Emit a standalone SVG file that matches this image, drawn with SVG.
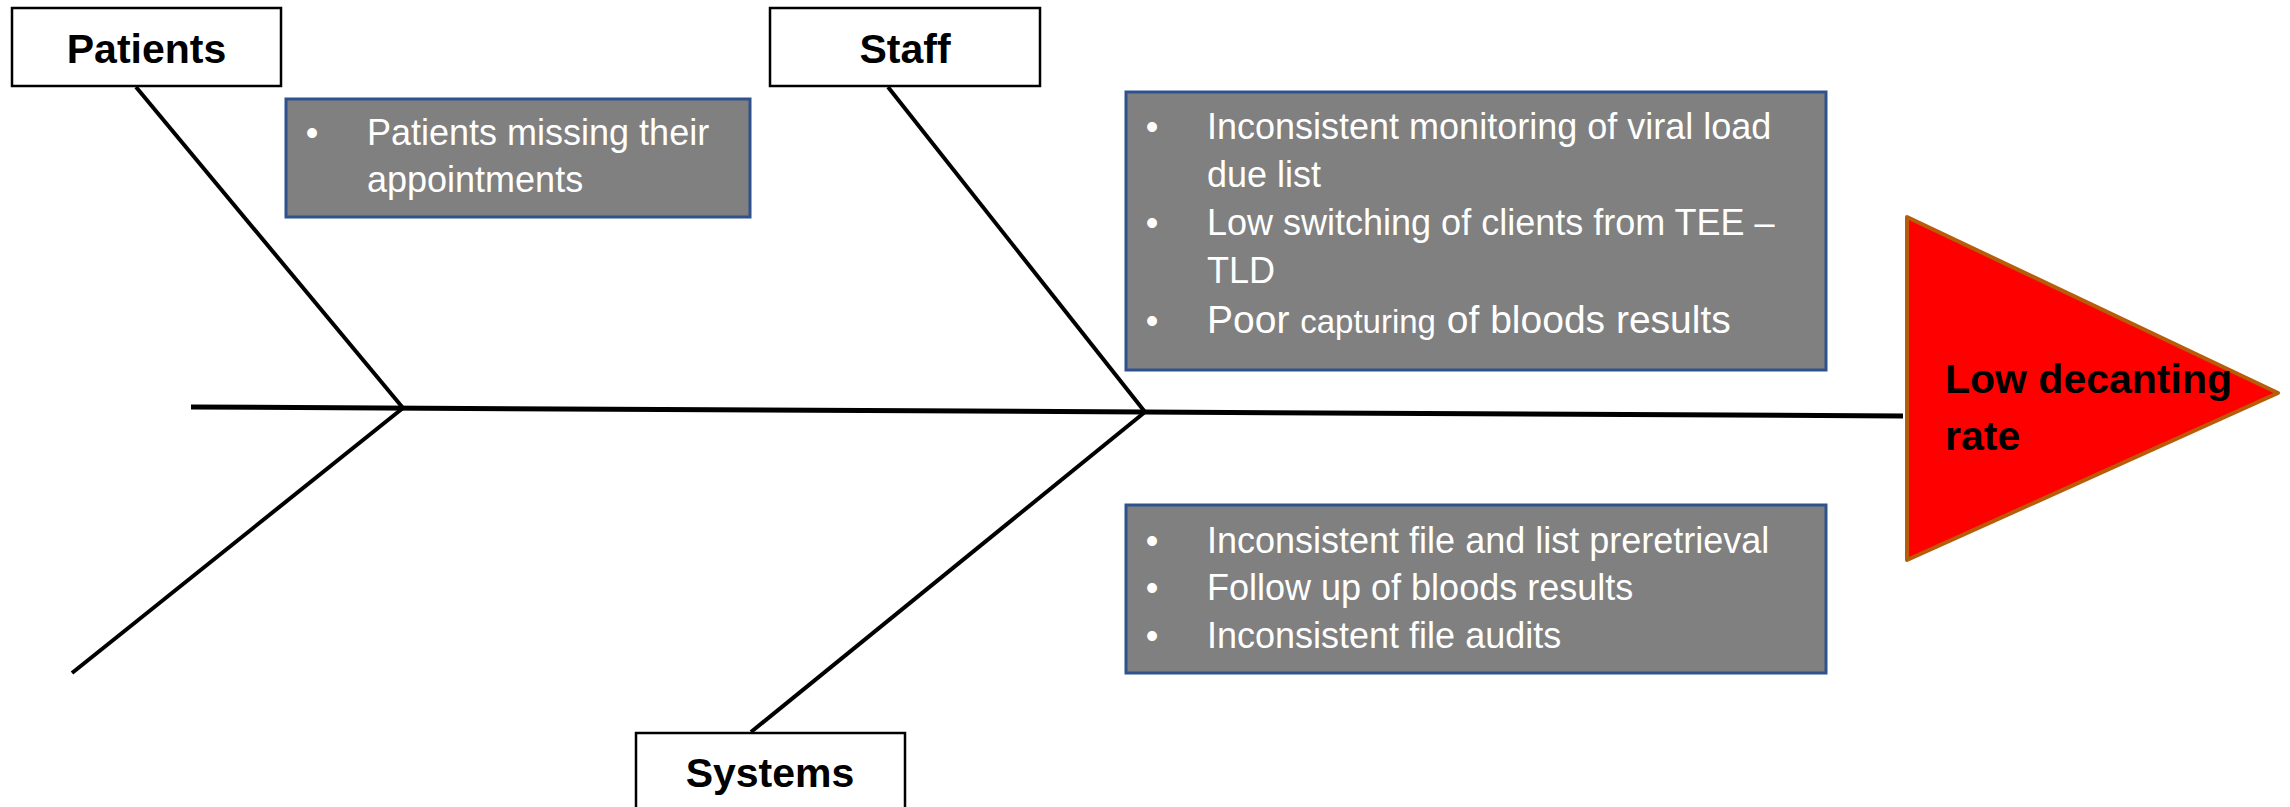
<svg xmlns="http://www.w3.org/2000/svg" width="2290" height="807" viewBox="0 0 2290 807">
  <style>
    .label-box { fill: #ffffff; stroke: #000000; stroke-width: 2.5; }
    .label { font-family: "Liberation Sans", Arial, sans-serif; font-weight: bold; font-size: 41px; fill: #000000; text-anchor: middle; }
    .cause-box { fill: #808080; stroke: #2F528F; stroke-width: 3; }
    .cause { font-family: "Liberation Sans", Arial, sans-serif; font-size: 36px; fill: #ffffff; }
    .bullet { text-anchor: middle; }
    .bone { stroke: #000000; stroke-width: 4; fill: none; stroke-linecap: butt; }
    .spine { stroke: #000000; stroke-width: 5; fill: none; }
    .head { fill: #FF0000; stroke: #B85C0A; stroke-width: 4; stroke-linejoin: round; }
    .effect { font-family: "Liberation Sans", Arial, sans-serif; font-weight: bold; font-size: 41px; fill: #000000; }
  </style>

  <!-- fishbone lines -->
  <g id="connectors">
    <line class="spine" x1="191" y1="407" x2="1903" y2="416"/>
    <line class="bone" x1="136" y1="87" x2="403" y2="408"/>
    <line class="bone" x1="403" y1="408" x2="72" y2="673"/>
    <line class="bone" x1="888" y1="87" x2="1145" y2="412"/>
    <line class="bone" x1="1145" y1="412" x2="751" y2="732"/>
  </g>

  <g id="patients">
    <rect class="label-box" x="12" y="8" width="269" height="78"/>
    <text class="label" x="146.5" y="63">Patients</text>
  </g>

  <g id="staff">
    <rect class="label-box" x="770" y="8" width="270" height="78"/>
    <text class="label" x="905" y="63">Staff</text>
  </g>

  <g id="systems">
    <rect class="label-box" x="636" y="733" width="269" height="90"/>
    <text class="label" x="770" y="787">Systems</text>
  </g>

  <g id="patients-causes">
    <rect class="cause-box" x="286" y="99" width="464" height="118"/>
    <text class="cause bullet" x="312" y="145">•</text>
    <text class="cause" x="367" y="145">Patients missing their</text>
    <text class="cause" x="367" y="192">appointments</text>
  </g>

  <g id="staff-causes">
    <rect class="cause-box" x="1126" y="92" width="700" height="278"/>
    <text class="cause bullet" x="1152" y="139">•</text>
    <text class="cause" x="1207" y="139">Inconsistent monitoring of viral load</text>
    <text class="cause" x="1207" y="187">due list</text>
    <text class="cause bullet" x="1152" y="235">•</text>
    <text class="cause" x="1207" y="235">Low switching of clients from TEE –</text>
    <text class="cause" x="1207" y="283">TLD</text>
    <text class="cause bullet" x="1152" y="333">•</text>
    <text class="cause" x="1207" y="333" style="font-size:39px">Poor <tspan style="font-size:33px">capturing</tspan> of bloods results</text>
  </g>

  <g id="systems-causes">
    <rect class="cause-box" x="1126" y="505" width="700" height="168"/>
    <text class="cause bullet" x="1152" y="553">•</text>
    <text class="cause" x="1207" y="553">Inconsistent file and list preretrieval</text>
    <text class="cause bullet" x="1152" y="600">•</text>
    <text class="cause" x="1207" y="600">Follow up of bloods results</text>
    <text class="cause bullet" x="1152" y="648">•</text>
    <text class="cause" x="1207" y="648">Inconsistent file audits</text>
  </g>

  <g id="effect">
    <polygon class="head" points="1907,217 2278,393 1907,560"/>
    <text class="effect" x="1945" y="393">Low decanting</text>
    <text class="effect" x="1945" y="450">rate</text>
  </g>
</svg>
